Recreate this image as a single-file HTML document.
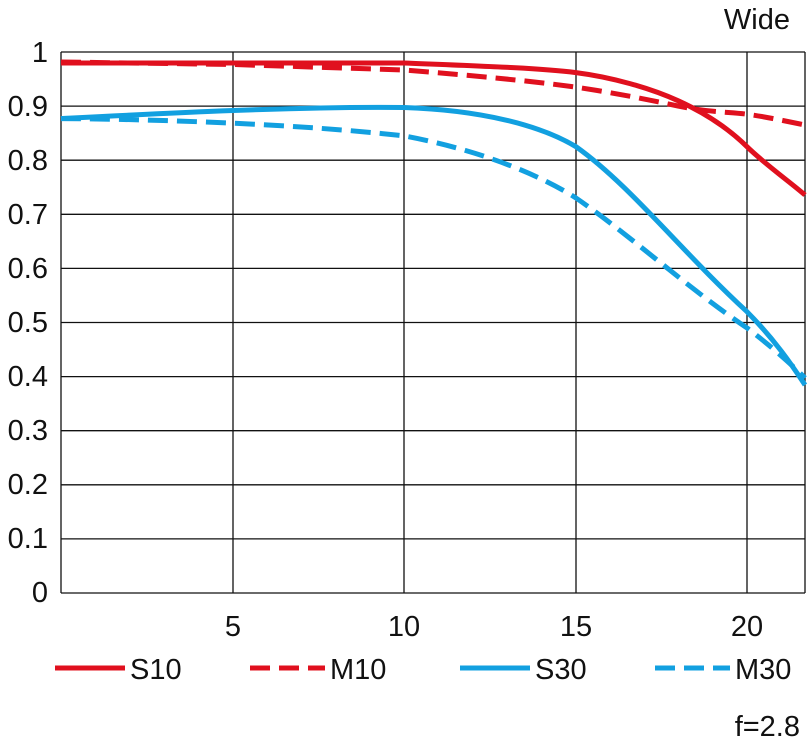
<!DOCTYPE html>
<html><head><style>body{margin:0;background:#fff}</style></head><body>
<svg width="810" height="749" xmlns="http://www.w3.org/2000/svg" font-family="Liberation Sans, DejaVu Sans, sans-serif" font-size="29" fill="#111">
<rect width="810" height="749" fill="#fff"/>
<g stroke="#111" stroke-width="1.3">
<line x1="61" y1="52" x2="61" y2="593"/>
<line x1="61" y1="593" x2="805" y2="593"/>
<line x1="233" y1="52" x2="233" y2="593"/>
<line x1="404" y1="52" x2="404" y2="593"/>
<line x1="576" y1="52" x2="576" y2="593"/>
<line x1="747" y1="52" x2="747" y2="593"/>
<line x1="805" y1="52" x2="805" y2="593"/>
<line x1="61" y1="52" x2="805" y2="52"/>
<line x1="61" y1="106.1" x2="805" y2="106.1"/>
<line x1="61" y1="160.2" x2="805" y2="160.2"/>
<line x1="61" y1="214.3" x2="805" y2="214.3"/>
<line x1="61" y1="268.4" x2="805" y2="268.4"/>
<line x1="61" y1="322.5" x2="805" y2="322.5"/>
<line x1="61" y1="376.6" x2="805" y2="376.6"/>
<line x1="61" y1="430.7" x2="805" y2="430.7"/>
<line x1="61" y1="484.8" x2="805" y2="484.8"/>
<line x1="61" y1="538.9" x2="805" y2="538.9"/>
</g>
<g text-anchor="end">
<text x="48" y="62">1</text><text x="48" y="116">0.9</text><text x="48" y="170">0.8</text>
<text x="48" y="224">0.7</text><text x="48" y="278">0.6</text><text x="48" y="332">0.5</text>
<text x="48" y="386">0.4</text><text x="48" y="440">0.3</text><text x="48" y="494">0.2</text>
<text x="48" y="548">0.1</text><text x="48" y="602">0</text>
</g>
<g text-anchor="middle">
<text x="233" y="636">5</text><text x="404" y="636">10</text><text x="576" y="636">15</text><text x="747" y="636">20</text>
</g>
<text x="790" y="29" text-anchor="end">Wide</text>
<text x="800" y="736" text-anchor="end">f=2.8</text>
<g fill="none" stroke-width="5" stroke-linejoin="round" stroke-linecap="butt">
<path d="M61,63 L233,63 L404,63 C480,66 540,68 576,72.6 S650,88 678,100.7 S730,130 747,146.7 S790,182 805,195" stroke="#e0101e"/>
<path d="M61,62 L233,64.5 L404,70 C480,76 540,82 576,87.2 S650,100 678,106 S730,112 747,114.2 S790,122 805,125" stroke="#e0101e" stroke-dasharray="20,9"/>
<path d="M61,118.6 C150,114 300,106 404,107.5 C480,110 540,125 576,146.7 C630,185 680,250 747,311.7 C775,340 792,365 805,385" stroke="#12a0e0"/>
<path d="M61,118.6 C150,119 300,124 404,135.9 C480,150 540,175 576,198 C630,235 690,290 747,327.9 C772,347 790,363 805,378" stroke="#12a0e0" stroke-dasharray="20,9"/>
<line x1="55" y1="668" x2="125" y2="668" stroke="#e0101e"/>
<line x1="250" y1="668" x2="325" y2="668" stroke="#e0101e" stroke-dasharray="20,9"/>
<line x1="460" y1="668" x2="530" y2="668" stroke="#12a0e0"/>
<line x1="655" y1="668" x2="730" y2="668" stroke="#12a0e0" stroke-dasharray="20,9"/>
</g>
<text x="130" y="679">S10</text><text x="330" y="679">M10</text>
<text x="535" y="679">S30</text><text x="735" y="679">M30</text>
</svg>
</body></html>
